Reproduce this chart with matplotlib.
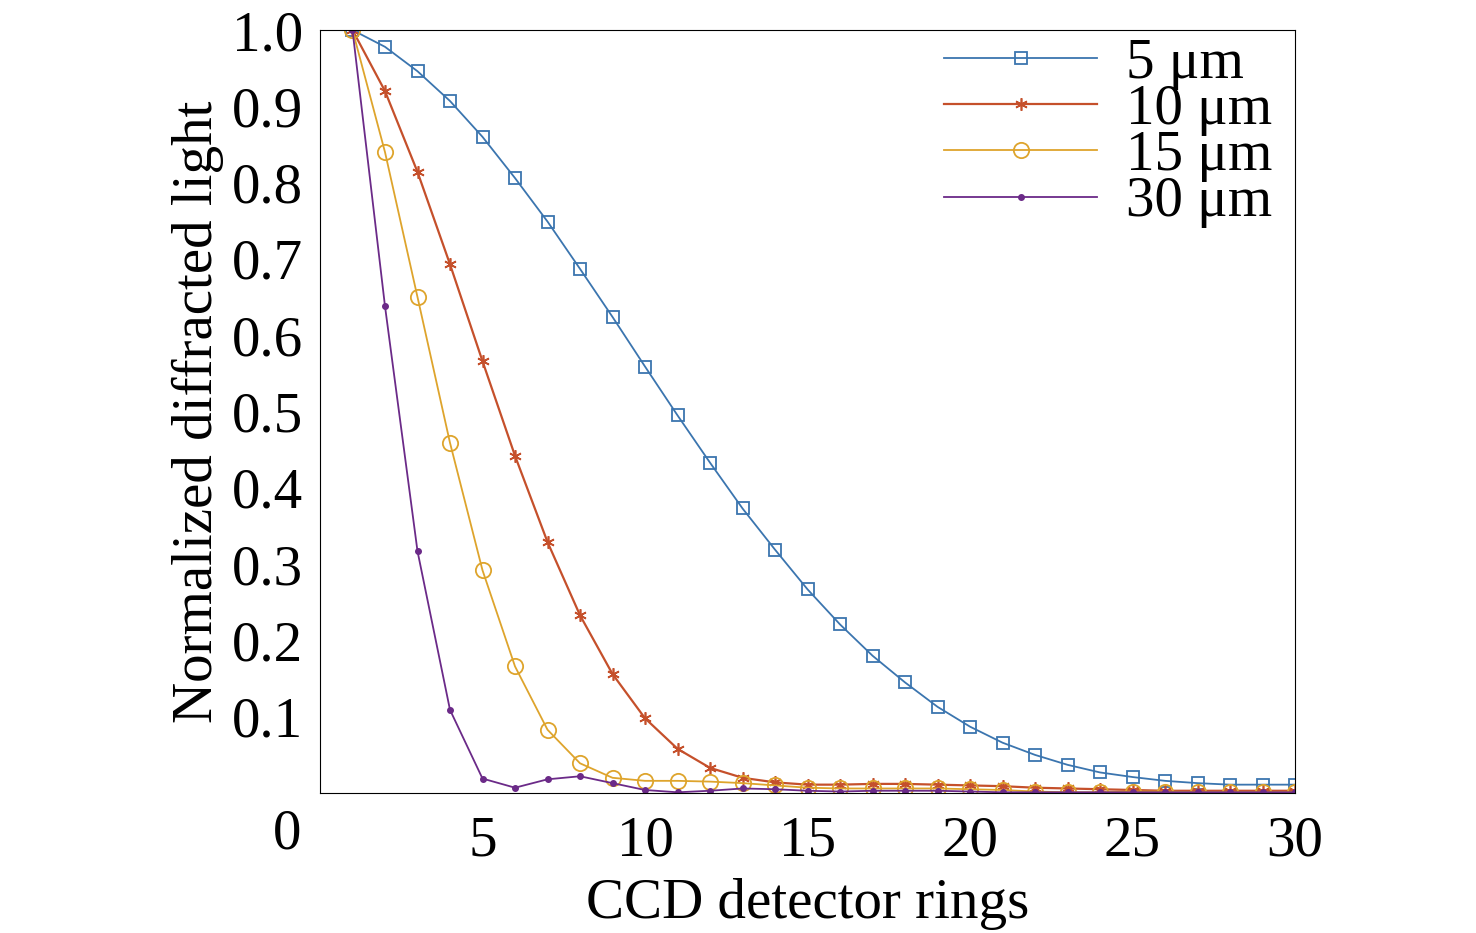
import matplotlib.pyplot as plt
import numpy as np

plt.rcParams['font.family'] = ['Liberation Serif', 'DejaVu Serif']

rings = np.arange(1, 31)
d5 = [1.0, 0.978, 0.946, 0.907, 0.860, 0.806, 0.749, 0.687, 0.624, 0.559,
      0.495, 0.433, 0.373, 0.319, 0.267, 0.221, 0.180, 0.145, 0.113, 0.087,
      0.066, 0.050, 0.037, 0.027, 0.021, 0.016, 0.013, 0.011, 0.011, 0.011]
d10 = [1.0, 0.920, 0.814, 0.693, 0.566, 0.442, 0.329, 0.233, 0.156, 0.098,
       0.058, 0.033, 0.020, 0.014, 0.011, 0.011, 0.012, 0.012, 0.011, 0.010,
       0.009, 0.007, 0.006, 0.005, 0.004, 0.003, 0.003, 0.003, 0.003, 0.003]
d15 = [1.0, 0.840, 0.650, 0.459, 0.292, 0.166, 0.083, 0.039, 0.020, 0.016,
       0.016, 0.015, 0.013, 0.010, 0.007, 0.006, 0.006, 0.006, 0.006, 0.005,
       0.004, 0.002, 0.001, 0.001, 0.002, 0.002, 0.001, 0.001, 0.001, 0.001]
d30 = [1.0, 0.638, 0.317, 0.109, 0.019, 0.007, 0.018, 0.022, 0.013, 0.004,
       0.001, 0.003, 0.006, 0.005, 0.003, 0.002, 0.003, 0.003, 0.003, 0.002,
       0.001, 0.001, 0.001, 0.001, 0.001, 0.001, 0.001, 0.001, 0.001, 0.001]

fig = plt.figure(figsize=(14.76, 9.33), dpi=100)
ax = fig.add_axes([0.2168, 0.15, 0.6606, 0.8178])

ax.plot(rings, d5, color='#3b75af', marker='s', mfc='none', ms=8, mew=1.3, lw=1.3, label='5 μm')
ax.plot(rings, d10, color='#c5502b', marker=(6, 2, 0), ms=9, mew=1.2, lw=1.6, label='10 μm')
ax.plot(rings, d15, color='#dea42c', marker='o', mfc='none', ms=11, mew=1.3, lw=1.3, label='15 μm')
ax.plot(rings, d30, color='#6b2a88', marker='.', ms=8, lw=1.3, label='30 μm')

ax.set_xlim(0, 30)
ax.set_ylim(0, 1.0)
ax.set_xticks([5, 10, 15, 20, 25, 30])
ax.set_yticks(np.round(np.arange(0.1, 1.01, 0.1), 1))
ax.set_yticklabels([f'{v:.1f}' for v in np.arange(0.1, 1.01, 0.1)])
ax.tick_params(labelsize=41, direction='in', length=0, pad=12)
ax.tick_params(axis='x', pad=16)
ax.text(-1, -0.02, '0', fontsize=41, ha='center', va='top', transform=ax.transData)
ax.set_xlabel('CCD detector rings', fontsize=41, labelpad=8)
ax.set_ylabel('Normalized diffracted light', fontsize=41, labelpad=6)
ax.legend(loc='upper right', fontsize=41, frameon=False, handlelength=2.7,
          labelspacing=-0.1, borderaxespad=0.0, handletextpad=0.5,
          bbox_to_anchor=(1.0, 1.02))

fig.savefig('out.png')
